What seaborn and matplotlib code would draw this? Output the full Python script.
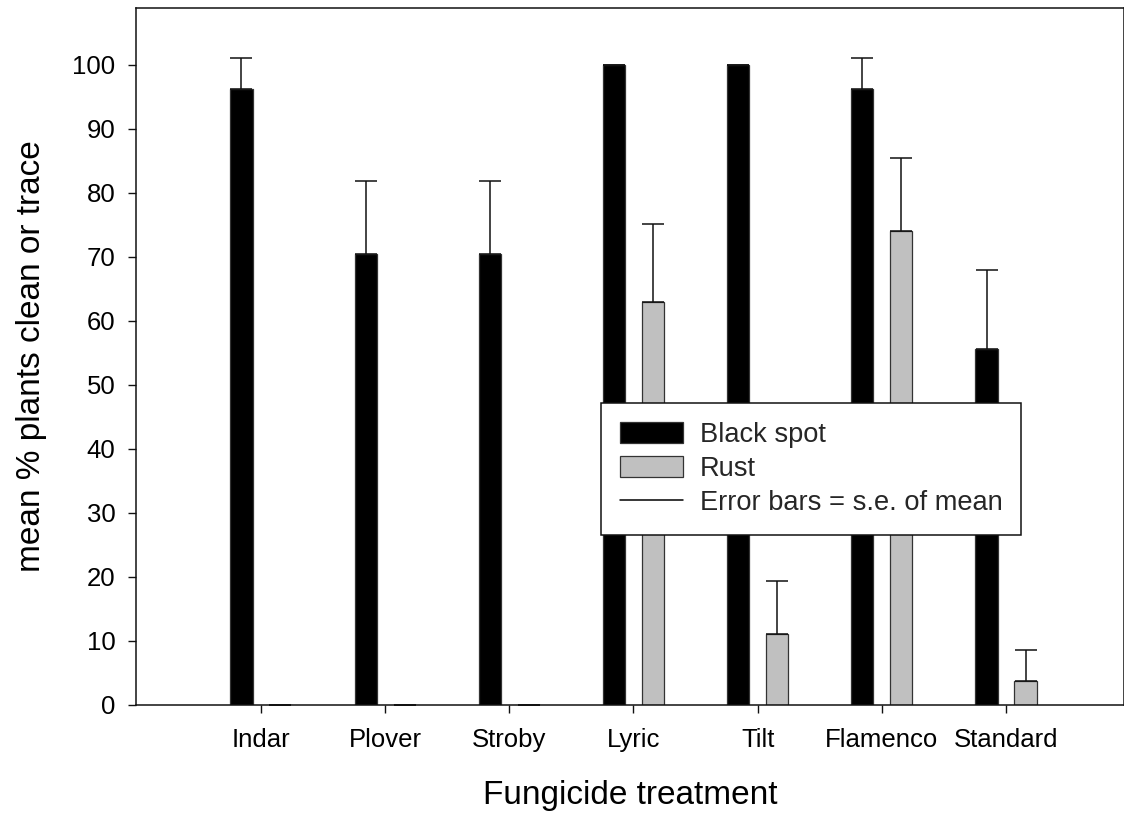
import numpy as np
import pandas as pd
import matplotlib
matplotlib.use("Agg")
import matplotlib.pyplot as plt
import seaborn as sns
from matplotlib.patches import Patch
from matplotlib.lines import Line2D

# ---- data ----
treatments = ["Indar", "Plover", "Stroby", "Lyric", "Tilt", "Flamenco", "Standard"]
diseases = ["Black spot", "Rust"]
black_spot = [96.3, 70.4, 70.4, 100.0, 100.0, 96.3, 55.6]
black_spot_se = [4.8, 11.4, 11.4, 0.0, 0.0, 4.8, 12.3]
rust = [0.0, 0.0, 0.0, 63.0, 11.1, 74.1, 3.7]
rust_se = [0.0, 0.0, 0.0, 12.2, 8.2, 11.3, 4.9]
yticks = list(range(0, 101, 10))

sns.set_theme(style="white")
plt.rcParams['font.family'] = ['Liberation Sans', 'DejaVu Sans']

df = pd.DataFrame({
    "Treatment": treatments * 2,
    "Disease": [diseases[0]] * len(treatments) + [diseases[1]] * len(treatments),
    "Value": black_spot + rust,
})

W, H = 1124, 836
fig = plt.figure(figsize=(W / 100, H / 100), dpi=100)
ax = fig.add_axes([136 / W, (H - 705) / H, (W - 136) / W, (705 - 8) / H])

sns.barplot(data=df, x="Treatment", y="Value", hue="Disease",
            order=treatments, hue_order=diseases,
            palette=["black", "#c0c0c0"], width=0.628, gap=0.43,
            errorbar=None, edgecolor="#333333", linewidth=0.9,
            legend=False, ax=ax)

# error bars (upper only)
for cont, means, ses in zip(ax.containers, [black_spot, rust], [black_spot_se, rust_se]):
    xs = [b.get_x() + b.get_width() / 2 for b in cont]
    ax.errorbar(xs, means, yerr=[np.zeros(len(ses)), ses], fmt="none",
                ecolor="#111111", elinewidth=1.1, capsize=7.9, capthick=1.1, zorder=1)

ax.set_xlim(-1.006, 6.95)
ax.set_ylim(0, 108.9)
ax.set_yticks(yticks)
ax.set_yticklabels([str(v) for v in yticks])

for s in ax.spines.values():
    s.set_visible(True)
    s.set_color("#111111")
    s.set_linewidth(1.1)

ax.tick_params(axis="both", direction="out", length=5.8, width=1.0, color="#111111",
               labelsize=18.5, labelcolor="black", bottom=True, left=True)
ax.tick_params(axis="x", pad=11)
ax.tick_params(axis="y", pad=9)
ax.set_xlabel("Fungicide treatment", fontsize=24, labelpad=20, color="black")
ax.set_ylabel("mean % plants clean or trace", fontsize=24, labelpad=18, color="black")

handles = [
    Patch(facecolor="black", edgecolor="#333333", linewidth=0.9, label="Black spot"),
    Patch(facecolor="#c0c0c0", edgecolor="#333333", linewidth=0.9, label="Rust"),
    Line2D([0], [0], color="black", linewidth=1.1, label="Error bars = s.e. of mean"),
]
leg = ax.legend(handles=handles, loc="upper left",
                bbox_to_anchor=((601 - 136) / (W - 136), (705 - 403) / (705 - 8)),
                borderaxespad=0, fontsize=19.6, frameon=True, fancybox=False,
                edgecolor="#111111", framealpha=1, handlelength=2.3, handleheight=0.8,
                labelspacing=0.3, borderpad=0.7, handletextpad=0.62)
leg.get_frame().set_linewidth(1.1)

fig.savefig("out.png", dpi=100)
